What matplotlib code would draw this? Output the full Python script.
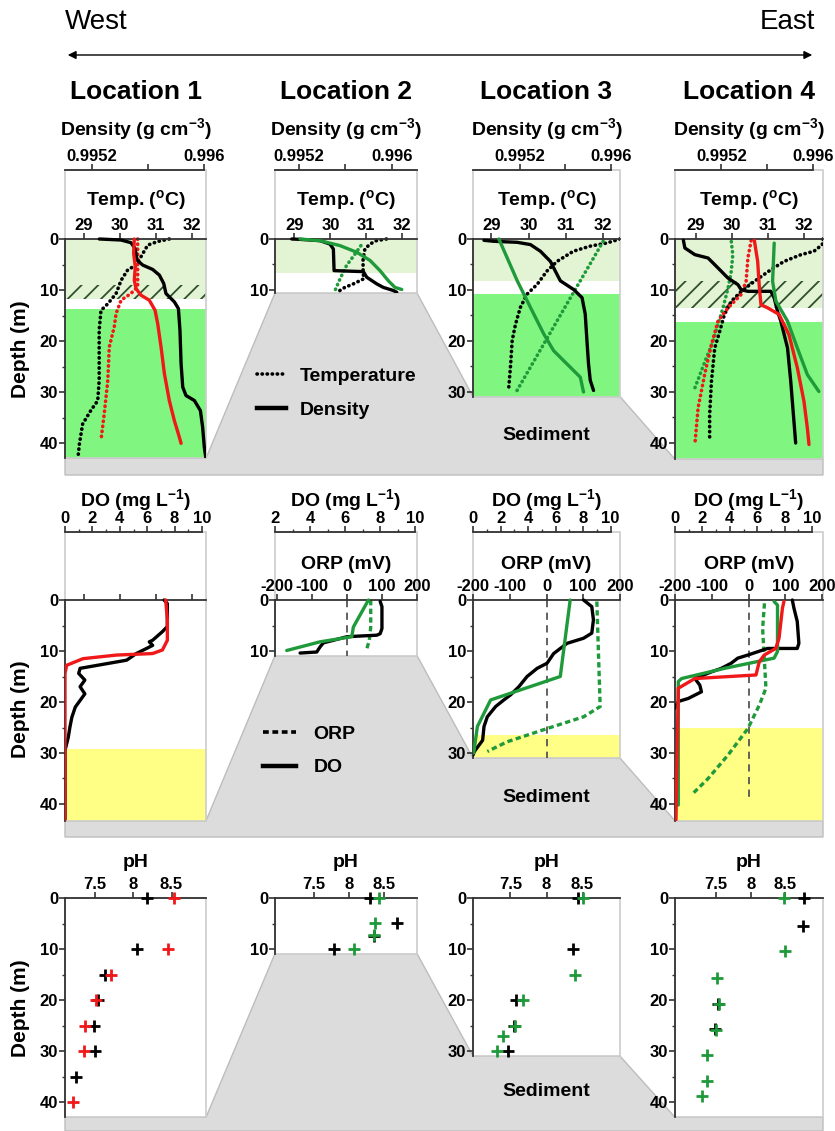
import numpy as np
import matplotlib
matplotlib.use("Agg")
import matplotlib.pyplot as plt
from matplotlib.lines import Line2D
from matplotlib.patches import Polygon, Rectangle

plt.rcParams["font.family"] = ["Liberation Sans", "DejaVu Sans"]
plt.rcParams["font.weight"] = "bold"
plt.rcParams["axes.labelweight"] = "bold"
plt.rcParams["axes.unicode_minus"] = False
plt.rcParams["mathtext.fontset"] = "custom"
plt.rcParams["mathtext.rm"] = "Liberation Sans:bold"
plt.rcParams["mathtext.default"] = "rm"
plt.rcParams["hatch.linewidth"] = 1.3

# ── Data: row 1, temperature (dotted) and density (solid) ───────────────────
L1_TEMP_BLACK_Z = [0, 0.5, 1.2, 3.5, 5.1, 6.1, 8.1, 10.7, 12.7, 14.0, 17.9, 27.7, 31.7, 33.6, 36.3, 40.2, 42.2]
L1_TEMP_BLACK = [31.37, 31.04, 30.77, 30.58, 30.44, 30.21, 30.03, 29.89, 29.66, 29.47, 29.42, 29.42, 29.38, 29.19, 28.96, 28.87, 28.84]
L1_TEMP_RED_Z = [0, 9.4, 10.7, 12.0, 14.6, 17.2, 21.2, 27.7, 34.3, 39.5]
L1_TEMP_RED = [30.49, 30.49, 30.30, 30.03, 29.89, 29.84, 29.70, 29.66, 29.56, 29.47]
L1_DENS_BLACK_Z = [0, 0.2, 0.72, 1.84, 4.13, 5.11, 5.97, 7.08, 8.72, 10.69, 12.33, 13.64, 17.9, 24.46, 29.05, 30.69, 31.67, 33.64, 36.92, 40.85, 43.1]
L1_DENS_BLACK = [0.995252, 0.995407, 0.995478, 0.995507, 0.995521, 0.995562, 0.995633, 0.995681, 0.995712, 0.995728, 0.995788,
                 0.995817, 0.995828, 0.995836, 0.995848, 0.995871, 0.995931, 0.995974, 0.995990, 0.996002, 0.996014]
L1_DENS_RED_Z = [0, 2.82, 5.44, 8.07, 9.7, 11.02, 12.0, 13.97, 16.59, 21.18, 26.43, 31.67, 35.61, 38.89, 40.07]
L1_DENS_RED = [0.995502, 0.995497, 0.995509, 0.995502, 0.995514, 0.995550, 0.995609, 0.995650, 0.995669, 0.995693,
               0.995717, 0.995752, 0.995788, 0.995824, 0.995836]

L2_TEMP_BLACK_Z = [0, 0.33, 1.0, 2.0, 3.9, 6.5, 7.8, 8.8, 9.5, 10.3]
L2_TEMP_BLACK = [31.56, 31.28, 31.10, 30.96, 30.91, 30.91, 30.93, 30.64, 30.40, 30.22]
L2_TEMP_GREEN_Z = [1.3, 3.0, 5.2, 7.8, 10.1]
L2_TEMP_GREEN = [30.85, 30.68, 30.45, 30.27, 30.13]
L2_DENS_BLACK_Z = [0, 0.07, 0.33, 1.0, 1.96, 6.2, 6.4, 7.5, 8.8, 9.5, 10.1, 10.45]
L2_DENS_BLACK = [0.995138, 0.995209, 0.995381, 0.995467, 0.995496, 0.995502, 0.995754, 0.995783, 0.995869, 0.995926, 0.996012, 0.996041]
L2_DENS_GREEN_Z = [0, 0.33, 1.3, 2.6, 4.2, 6.2, 8.2, 9.5, 9.9]
L2_DENS_GREEN = [0.995209, 0.995381, 0.995553, 0.995697, 0.995811, 0.995897, 0.995969, 0.996026, 0.996084]

L3_TEMP_BLACK_Z = [0, 0.8, 1.4, 2.4, 4.4, 6.3, 8.9, 10.8, 13.4, 16.7, 19.9, 24.5, 29.0]
L3_TEMP_BLACK = [32.45, 32.09, 31.65, 31.20, 30.76, 30.49, 30.23, 29.96, 29.78, 29.65, 29.56, 29.52, 29.47]
L3_TEMP_GREEN_Z = [0.45, 14.7, 29.7]
L3_TEMP_GREEN = [32.0, 30.87, 29.69]
L3_DENS_BLACK_Z = [0.26, 0.45, 0.65, 1.1, 2.4, 4.4, 6.3, 8.2, 9.9, 11.5, 14.7, 19.9, 24.5, 27.7, 29.7]
L3_DENS_BLACK = [0.994888, 0.994975, 0.995180, 0.995296, 0.995383, 0.995471, 0.995514, 0.995558, 0.995674, 0.995748,
                 0.995776, 0.995791, 0.995805, 0.995820, 0.995849]
L3_DENS_GREEN_Z = [0, 8.2, 14.1, 18.6, 21.9, 24.5, 27.1, 30.0]
L3_DENS_GREEN = [0.995019, 0.995180, 0.995311, 0.995412, 0.995499, 0.995616, 0.995733, 0.995761]

L4_TEMP_BLACK_Z = [0, 1.1, 2.4, 3.1, 4.4, 6.0, 8.3, 10.3, 12.2, 14.8, 18.1, 21.4, 27.9, 34.4, 39.3]
L4_TEMP_BLACK = [32.53, 32.51, 32.28, 31.91, 31.45, 31.09, 30.63, 30.26, 29.99, 29.80, 29.67, 29.53, 29.44, 29.39, 29.39]
L4_TEMP_GREEN_Z = [0.5, 3.1, 6.3, 9.6, 13.5, 16.8, 20.1, 23.3, 26.6, 29.2]
L4_TEMP_GREEN = [29.99, 30.03, 29.99, 29.90, 29.76, 29.62, 29.48, 29.30, 29.12, 28.98]
L4_TEMP_RED_Z = [0.3, 3.7, 8.3, 10.9, 13.5, 16.1, 20.7, 26.6, 33.1, 40.3]
L4_TEMP_RED = [30.54, 30.45, 30.40, 30.26, 29.90, 29.62, 29.44, 29.25, 29.07, 28.98]
L4_DENS_BLACK_Z = [0.26, 1.76, 3.07, 3.73, 5.69, 7.65, 8.95, 9.93, 10.26, 10.26, 11.57, 14.18, 16.14, 21.37, 27.91, 40.0]
L4_DENS_BLACK = [0.994870, 0.994883, 0.994970, 0.995085, 0.995172, 0.995258, 0.995345, 0.995373, 0.995431, 0.995632,
                 0.995661, 0.995690, 0.995719, 0.995777, 0.995805, 0.995848]
L4_DENS_GREEN_Z = [0.8, 8.3, 12.2, 16.1, 21.4, 26.6, 29.9]
L4_DENS_GREEN = [0.995661, 0.995647, 0.995676, 0.995777, 0.995863, 0.995950, 0.996050]
L4_DENS_RED_Z = [0.26, 4.4, 9.6, 12.9, 13.5, 14.8, 18.8, 25.3, 31.8, 37.1, 40.3]
L4_DENS_RED = [0.995488, 0.995517, 0.995532, 0.995546, 0.995604, 0.995704, 0.995790, 0.995863, 0.995920, 0.995950, 0.995964]

# ── Data: row 2, DO (solid, mg/L) and ORP (dashed, mV) ───────────────────────
L1_DO_BLACK_Z = [0, 0.7, 5.2, 6.2, 7.9, 8.2, 8.9, 10.5, 11.8, 13.4, 14.4, 15.7, 17.0, 18.4, 19.7, 21.0, 23.0, 24.9, 26.9, 29.5, 40.0, 43.0]
L1_DO_BLACK = [7.23, 7.47, 7.47, 7.11, 6.39, 6.15, 6.40, 5.20, 4.50, 1.10, 1.00, 1.45, 1.10, 1.45, 1.10, 0.75, 0.50, 0.36, 0.24, 0.0, 0.0, 0.0]
L1_DO_RED_Z = [0, 3.9, 7.9, 9.8, 10.5, 10.8, 11.5, 12.8, 14.4, 43.0]
L1_DO_RED = [7.35, 7.47, 7.47, 7.11, 6.39, 3.74, 1.32, 0.12, 0.0, 0.0]

L2_DO_BLACK_Z = [0.3, 1.3, 5.6, 6.6, 6.9, 7.2, 7.9, 8.4, 9.2, 10.2, 10.4]
L2_DO_BLACK = [8.0, 8.10, 8.10, 8.0, 7.81, 6.10, 5.33, 4.76, 4.57, 4.38, 3.43]
L2_DO_GREEN_Z = [0, 5.3, 7.2, 8.2, 9.9]
L2_DO_GREEN = [7.33, 6.47, 6.38, 4.57, 2.67]
L2_ORP_GREEN_Z = [0, 5.3, 7.9, 10.0]
L2_ORP_GREEN = [68, 68, 64, 55]

L3_DO_BLACK_Z = [0, 1.3, 3.9, 6.5, 7.5, 8.5, 10.5, 12.4, 13.4, 15.0, 17.0, 18.6, 19.6, 20.9, 22.9, 24.8, 27.5, 29.7, 30.4]
L3_DO_BLACK = [8.03, 8.63, 8.75, 8.63, 8.03, 6.83, 5.86, 5.38, 4.66, 3.93, 3.33, 2.73, 2.24, 1.64, 1.04, 0.80, 0.70, 0.10, 0.0]
L3_DO_GREEN_Z = [0, 15.0, 19.6, 24.8, 30.0]
L3_DO_GREEN = [7.06, 6.34, 1.28, 0.32, 0.05]
L3_ORP_GREEN_Z = [0.3, 11.8, 20.9, 22.9, 25.2, 27.8, 29.7]
L3_ORP_GREEN = [137, 142, 146, 101, 2, -107, -161]

L4_DO_BLACK_Z = [0, 1.6, 4.2, 8.5, 9.5, 9.5, 10.8, 11.4, 12.4, 13.4, 14.1, 15.4, 16.7, 18.0, 19.3, 19.9, 21.2]
L4_DO_BLACK = [8.56, 8.68, 8.92, 9.04, 8.92, 6.75, 5.31, 4.58, 4.10, 3.38, 2.65, 1.45, 1.81, 1.93, 0.97, 0.24, 0.0]
L4_DO_GREEN_Z = [0.3, 1.0, 10.1, 11.4, 13.4, 15.4, 16.0, 40.2]
L4_DO_GREEN = [7.23, 7.48, 7.48, 7.23, 3.62, 0.48, 0.24, 0.24]
L4_DO_RED_Z = [0.3, 1.6, 7.5, 9.5, 10.8, 12.1, 14.7, 15.4, 17.3, 43.1]
L4_DO_RED = [7.95, 7.84, 7.59, 7.35, 6.51, 6.15, 5.91, 1.45, 0.24, 0.07]
L4_ORP_GREEN_Z = [0.65, 5.6, 12.1, 17.3, 20.6, 25.2, 30.4, 35.0, 38.2]
L4_ORP_GREEN = [43, 38, 43, 47, 29, -2, -56, -110, -155]

# ── Data: row 3, pH ─────────────────────────────────────────────────────────
L1_PH_BLACK_Z = [0, 10, 15, 20, 25, 30, 35]
L1_PH_BLACK = [8.18, 8.05, 7.63, 7.54, 7.49, 7.50, 7.25]
L1_PH_RED_Z = [0, 10, 15, 20, 25, 30, 40]
L1_PH_RED = [8.53, 8.46, 7.71, 7.51, 7.37, 7.36, 7.21]
L2_PH_BLACK_Z = [0, 4.9, 7.5, 10]
L2_PH_BLACK = [8.30, 8.69, 8.35, 7.79]
L2_PH_GREEN_Z = [0, 4.9, 7.3, 10]
L2_PH_GREEN = [8.42, 8.37, 8.36, 8.07]
L3_PH_BLACK_Z = [0, 10, 20, 25, 30]
L3_PH_BLACK = [8.44, 8.37, 7.57, 7.55, 7.47]
L3_PH_GREEN_Z = [0, 15, 20, 25, 27, 30]
L3_PH_GREEN = [8.50, 8.40, 7.67, 7.56, 7.40, 7.31]
L4_PH_BLACK_Z = [0, 5.5, 20.7, 25.7]
L4_PH_BLACK = [8.77, 8.75, 7.53, 7.49]
L4_PH_GREEN_Z = [0, 10.4, 15.6, 20.7, 25.8, 30.8, 35.9, 38.9]
L4_PH_GREEN = [8.48, 8.50, 7.51, 7.55, 7.50, 7.37, 7.37, 7.30]

LOCATIONS = ["Location 1", "Location 2", "Location 3", "Location 4"]

# ── Layout / style ──────────────────────────────────────────────────────────
W, H = 835, 1131
PX_M = 5.1                       # pixels per metre of depth
COLS = [(65, 206), (275, 417), (473, 620), (675, 823)]
BLACK, RED, GREEN = "#000000", "#f01818", "#1f9a3a"
PALE, BRIGHT, YELLOW = "#e3f4d4", "#80f680", "#ffff85"
FLOOR, FLOOR_EDGE, BOX, AXC = "#dcdcdc", "#bdbdbd", "#cccccc", "#333333"
DOT = (0, (0.1, 1.3))
DASH = (0, (1.6, 1.0))

fig = plt.figure(figsize=(W / 100, H / 100), dpi=100)
bg = fig.add_axes([0, 0, 1, 1], zorder=-10)
bg.set_xlim(0, W)
bg.set_ylim(H, 0)
bg.axis("off")


def rect(x0, y0, x1, y1):
    return [x0 / W, 1 - y1 / H, (x1 - x0) / W, (y1 - y0) / H]


def panel(col, ytop, y0, dbot, xlim, xticks, xticklabels=None, xlabel=None, lpad=8, top=None):
    x0, x1 = COLS[col]
    ax = fig.add_axes(rect(x0, ytop, x1, y0 + dbot * PX_M))
    ax.set_ylim(dbot, -(y0 - ytop) / PX_M)
    axt = None
    if top is not None:
        axt = ax.twiny()
        axt.set_xlim(top["lim"])
        for s in ("left", "right", "bottom"):
            axt.spines[s].set_visible(False)
        axt.spines["top"].set_bounds(top["lim"][0], top["end"])
        axt.spines["top"].set_color(AXC)
        axt.spines["top"].set_linewidth(1.3)
        axt.set_xticks(top["ticks"])
        axt.set_xticklabels(top["labels"])
        if top.get("minor") is not None:
            axt.set_xticks(top["minor"], minor=True)
        axt.tick_params(axis="x", which="major", length=4, width=1.2, pad=0, labelsize=12, color=AXC)
        axt.tick_params(axis="x", which="minor", length=2.5, width=1.0, color=AXC)
        axt.set_xlabel(top["label"], fontsize=14, labelpad=top["pad"])

    ax.set_xlim(xlim)
    ax.add_patch(Rectangle((0, 0), 1, 1, transform=ax.transAxes, fill=False,
                           ec=BOX, lw=1.2, clip_on=False, zorder=1.5))
    ax.spines["bottom"].set_visible(False)
    ax.spines["right"].set_visible(False)
    ax.spines["left"].set_bounds(0, dbot)
    ax.spines["top"].set_position(("data", 0))
    for s in ("left", "top"):
        ax.spines[s].set_color(AXC)
        ax.spines[s].set_linewidth(1.3)
    ax.xaxis.tick_top()
    ax.xaxis.set_label_position("top")
    ax.set_xticks(xticks)
    if xticklabels is not None:
        ax.set_xticklabels(xticklabels)
    ax.tick_params(axis="x", length=4, width=1.2, pad=0.5, labelsize=12, color=AXC)
    if xlabel:
        ax.set_xlabel(xlabel, fontsize=14, labelpad=lpad)
    ax.set_yticks(np.arange(0, dbot + 0.01, 10))
    ax.set_yticklabels([f"{v:.0f}" for v in np.arange(0, dbot + 0.01, 10)])
    ax.set_yticks(np.arange(5, dbot, 10), minor=True)
    ax.tick_params(axis="y", which="major", length=4, width=1.2, pad=1, labelsize=12, color=AXC)
    ax.tick_params(axis="y", which="minor", length=2.5, width=1.0, color=AXC)
    return ax, axt


def line(ax, x, z, color, ls="-", lw=2.4):
    ax.plot(x, z, color=color, ls=ls, lw=lw, solid_capstyle="round",
            dash_capstyle="round" if ls == DOT else "butt", solid_joinstyle="round")


def cross(ax, x, z, color):
    ax.plot(x, z, ls="none", marker="+", ms=8, mew=2, color=color, clip_on=False, zorder=3)


def floor(z0, dbots, ybottom):
    pts = []
    for (x0, x1), d in zip(COLS, dbots):
        yb = z0 + d * PX_M
        pts += [(x0, yb), (x1, yb)]
    pts += [(COLS[-1][1], ybottom), (COLS[0][0], ybottom)]
    bg.add_patch(Polygon(pts, closed=True, fc=FLOOR, ec=FLOOR_EDGE, lw=1))


# ── Header ──────────────────────────────────────────────────────────────────
bg.text(65, 22, "West", fontsize=20, fontweight="normal", ha="left", va="center")
bg.text(815, 22, "East", fontsize=20, fontweight="normal", ha="right", va="center")
bg.annotate("", xy=(815, 55), xytext=(65, 55),
            arrowprops=dict(arrowstyle="<|-|>", color="k", lw=1, mutation_scale=12))
for (x0, x1), name in zip(COLS, LOCATIONS):
    bg.text((x0 + x1) / 2, 92, name, fontsize=19, ha="center", va="center")
for y in (349, 709, 1008):
    bg.text(21, y, "Depth (m)", fontsize=15, rotation=90, ha="center", va="center")

# ── Row 1 ───────────────────────────────────────────────────────────────────
R1_TOP, R1_Z0 = 170, 239
R1_BOT = [43.0, 10.6, 30.9, 43.2]
floor(R1_Z0, R1_BOT, 475)
TEMP_LIMS = [(28.47, 32.39), (28.46, 32.41), (28.51, 32.45), (28.43, 32.53)]
DENS_LIMS = [(0.995007, 0.996014), (0.994994, 0.996215), (0.994792, 0.996081), (0.994797, 0.996086)]
DENS_END = [0.996, 0.996215, 0.996, 0.996]
row1 = []
for i in range(4):
    top = dict(lim=DENS_LIMS[i], end=DENS_END[i], ticks=[0.9952, 0.9956, 0.996],
               labels=["0.9952", "", "0.996"], label="Density (g cm$^{-3}$)", pad=10)
    row1.append(panel(i, R1_TOP, R1_Z0, R1_BOT[i], TEMP_LIMS[i], [29, 30, 31, 32],
                      xlabel="Temp. ($^{o}$C)", lpad=9, top=top))

ax, axt = row1[0]
ax.axhspan(0, 11.7, color=PALE, lw=0, zorder=0)
ax.axhspan(13.7, R1_BOT[0], color=BRIGHT, lw=0, zorder=0)
ax.axhspan(9.0, 11.7, fc="none", ec="#2f4f2f", hatch="//", lw=0, zorder=0.5)
line(ax, L1_TEMP_BLACK, L1_TEMP_BLACK_Z, BLACK, DOT, 2.6)
line(ax, L1_TEMP_RED, L1_TEMP_RED_Z, RED, DOT, 2.6)
line(axt, L1_DENS_BLACK, L1_DENS_BLACK_Z, BLACK)
line(axt, L1_DENS_RED, L1_DENS_RED_Z, RED)

ax, axt = row1[1]
ax.axhspan(0, 6.6, color=PALE, lw=0, zorder=0)
line(ax, L2_TEMP_BLACK, L2_TEMP_BLACK_Z, BLACK, DOT, 2.6)
line(ax, L2_TEMP_GREEN, L2_TEMP_GREEN_Z, GREEN, DOT, 2.6)
line(axt, L2_DENS_BLACK, L2_DENS_BLACK_Z, BLACK)
line(axt, L2_DENS_GREEN, L2_DENS_GREEN_Z, GREEN)

ax, axt = row1[2]
ax.axhspan(0, 8.2, color=PALE, lw=0, zorder=0)
ax.axhspan(10.7, R1_BOT[2], color=BRIGHT, lw=0, zorder=0)
line(ax, L3_TEMP_BLACK, L3_TEMP_BLACK_Z, BLACK, DOT, 2.6)
line(ax, L3_TEMP_GREEN, L3_TEMP_GREEN_Z, GREEN, DOT, 2.6)
line(axt, L3_DENS_BLACK, L3_DENS_BLACK_Z, BLACK)
line(axt, L3_DENS_GREEN, L3_DENS_GREEN_Z, GREEN)

ax, axt = row1[3]
ax.axhspan(0, 13.5, color=PALE, lw=0, zorder=0)
ax.axhspan(16.3, R1_BOT[3], color=BRIGHT, lw=0, zorder=0)
ax.axhspan(8.3, 13.5, fc="none", ec="#2f4f2f", hatch="//", lw=0, zorder=0.5)
line(ax, L4_TEMP_BLACK, L4_TEMP_BLACK_Z, BLACK, DOT, 2.6)
line(ax, L4_TEMP_GREEN, L4_TEMP_GREEN_Z, GREEN, DOT, 2.6)
line(ax, L4_TEMP_RED, L4_TEMP_RED_Z, RED, DOT, 2.6)
line(axt, L4_DENS_BLACK, L4_DENS_BLACK_Z, BLACK)
line(axt, L4_DENS_GREEN, L4_DENS_GREEN_Z, GREEN)
line(axt, L4_DENS_RED, L4_DENS_RED_Z, RED)

bg.text(546, 435, "Sediment", fontsize=14, ha="center", va="center")
fig.legend([Line2D([], [], color="k", lw=2.6, ls=DOT, dash_capstyle="round"),
            Line2D([], [], color="k", lw=3.2)],
           ["Temperature", "Density"], loc="center left",
           bbox_to_anchor=(257 / W, 1 - 393 / H), frameon=False,
           prop=dict(size=14, weight="bold"), handlelength=1.5, handletextpad=0.7,
           labelspacing=0.85, borderpad=0, borderaxespad=0)

# ── Row 2 ───────────────────────────────────────────────────────────────────
R2_TOP, R2_Z0 = 532, 600
R2_BOT = [43.3, 10.9, 31.0, 43.3]
floor(R2_Z0, R2_BOT, 837)
DO_LIMS = [(0, 10.29), (2, 10.1), (0, 10.68), (0, 10.8)]
ORP_LIMS = [None, (-205, 200), (-200, 200), (-200, 202)]
row2 = []
for i in range(4):
    lo = DO_LIMS[i][0]
    top = dict(lim=DO_LIMS[i], end=10, ticks=np.arange(lo, 10.1, 2),
               labels=[f"{v:.0f}" for v in np.arange(lo, 10.1, 2)],
               minor=np.arange(lo + 1, 10, 2), label="DO (mg L$^{-1}$)", pad=4)
    if i == 0:
        row2.append(panel(i, R2_TOP, R2_Z0, R2_BOT[i], TEMP_LIMS[0], [29, 30, 31, 32],
                          xticklabels=[], top=top))
    else:
        row2.append(panel(i, R2_TOP, R2_Z0, R2_BOT[i], ORP_LIMS[i], [-200, -100, 0, 100, 200],
                          xlabel="ORP (mV)", lpad=7, top=top))

ax, axt = row2[0]
ax.axhspan(29.2, R2_BOT[0], color=YELLOW, lw=0, zorder=0)
line(axt, L1_DO_BLACK, L1_DO_BLACK_Z, BLACK)
line(axt, L1_DO_RED, L1_DO_RED_Z, RED)

ax, axt = row2[1]
ax.vlines(0, 0, R2_BOT[1], color="#555555", lw=1.3, linestyles=(0, (4, 3)), zorder=1.8)
line(ax, L2_ORP_GREEN, L2_ORP_GREEN_Z, GREEN, DASH)
line(axt, L2_DO_BLACK, L2_DO_BLACK_Z, BLACK)
line(axt, L2_DO_GREEN, L2_DO_GREEN_Z, GREEN)

ax, axt = row2[2]
ax.axhspan(26.5, R2_BOT[2], color=YELLOW, lw=0, zorder=0)
ax.vlines(0, 0, R2_BOT[2], color="#555555", lw=1.3, linestyles=(0, (4, 3)), zorder=1.8)
line(ax, L3_ORP_GREEN, L3_ORP_GREEN_Z, GREEN, DASH)
line(axt, L3_DO_BLACK, L3_DO_BLACK_Z, BLACK)
line(axt, L3_DO_GREEN, L3_DO_GREEN_Z, GREEN)

ax, axt = row2[3]
ax.axhspan(25.0, R2_BOT[3], color=YELLOW, lw=0, zorder=0)
ax.vlines(0, 0, 39.5, color="#555555", lw=1.3, linestyles=(0, (4, 3)), zorder=1.8)
line(ax, L4_ORP_GREEN, L4_ORP_GREEN_Z, GREEN, DASH)
line(axt, L4_DO_BLACK, L4_DO_BLACK_Z, BLACK)
line(axt, L4_DO_GREEN, L4_DO_GREEN_Z, GREEN)
line(axt, L4_DO_RED, L4_DO_RED_Z, RED)

bg.text(546, 797, "Sediment", fontsize=14, ha="center", va="center")
fig.legend([Line2D([], [], color="k", lw=2.6, ls=DASH),
            Line2D([], [], color="k", lw=3.2)],
           ["ORP", "DO"], loc="center left",
           bbox_to_anchor=(263 / W, 1 - 751 / H), frameon=False,
           prop=dict(size=14, weight="bold"), handlelength=1.7, handletextpad=0.9,
           labelspacing=0.8, borderpad=0, borderaxespad=0)

# ── Row 3 ───────────────────────────────────────────────────────────────────
R3_Z0 = 898
R3_BOT = [43.0, 10.9, 31.0, 43.0]
floor(R3_Z0, R3_BOT, 1131)
PH_LIMS = [(7.11, 8.95), (6.94, 8.97), (6.98, 9.02), (6.91, 9.04)]
row3 = [panel(i, R3_Z0, R3_Z0, R3_BOT[i], PH_LIMS[i], [7.5, 8, 8.5],
              xticklabels=["7.5", "8", "8.5"], xlabel="pH", lpad=7)[0] for i in range(4)]

cross(row3[0], L1_PH_BLACK, L1_PH_BLACK_Z, BLACK)
cross(row3[0], L1_PH_RED, L1_PH_RED_Z, RED)
cross(row3[1], L2_PH_BLACK, L2_PH_BLACK_Z, BLACK)
cross(row3[1], L2_PH_GREEN, L2_PH_GREEN_Z, GREEN)
cross(row3[2], L3_PH_BLACK, L3_PH_BLACK_Z, BLACK)
cross(row3[2], L3_PH_GREEN, L3_PH_GREEN_Z, GREEN)
cross(row3[3], L4_PH_BLACK, L4_PH_BLACK_Z, BLACK)
cross(row3[3], L4_PH_GREEN, L4_PH_GREEN_Z, GREEN)

bg.text(546, 1092, "Sediment", fontsize=14, ha="center", va="center")

fig.savefig("out.png", dpi=100, facecolor="white")
